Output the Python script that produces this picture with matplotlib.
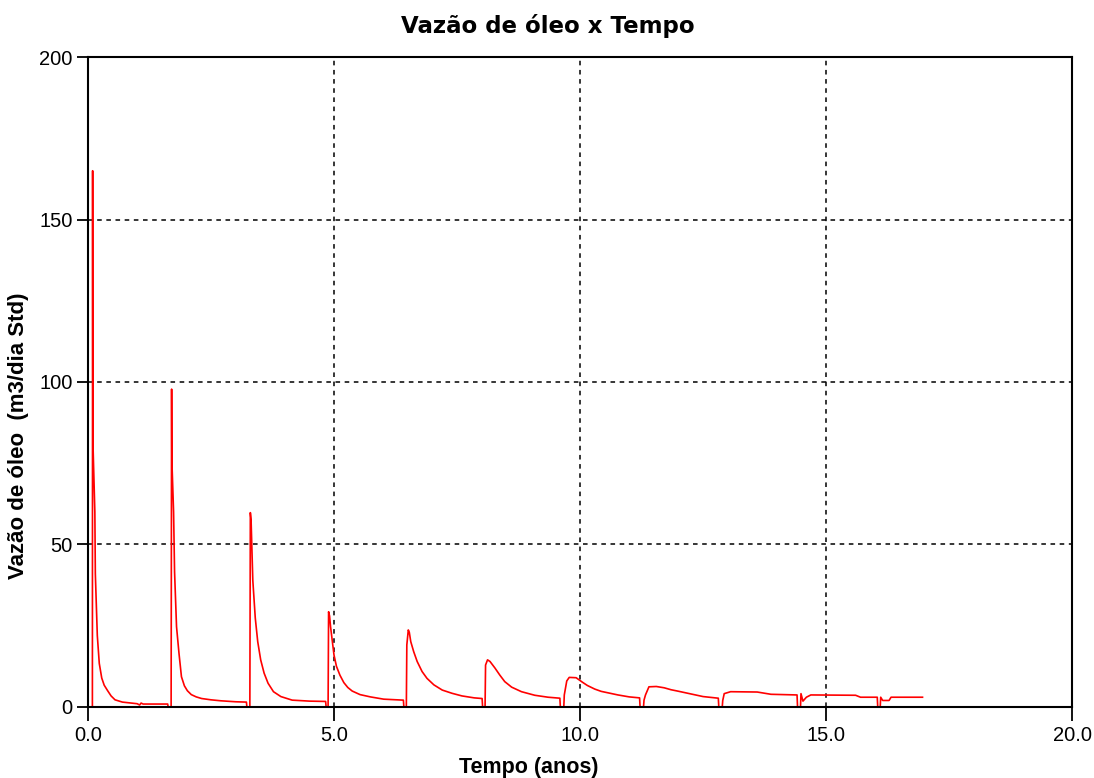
import matplotlib
matplotlib.use("Agg")
import matplotlib.pyplot as plt

# Vazao de oleo (m3/dia Std), ciclo a ciclo
tempo = [0.00, 0.09, 0.095, 0.10, 0.14, 0.15, 0.19, 0.23, 0.28, 0.33, 0.40, 0.47, 0.55, 0.70, 1.00, 1.05, 1.08, 1.12, 1.62, 1.63,
         1.69, 1.70, 1.705, 1.74, 1.76, 1.80, 1.85, 1.90, 1.96, 2.02, 2.10, 2.20, 2.31, 2.50, 2.70, 3.00, 3.22, 3.23,
         3.29, 3.30, 3.315, 3.35, 3.40, 3.45, 3.51, 3.58, 3.66, 3.77, 3.92, 4.15, 4.50, 4.83, 4.84,
         4.88, 4.89, 4.91, 4.93, 5.00, 5.05, 5.12, 5.20, 5.28, 5.37, 5.53, 5.74, 6.01, 6.41, 6.42,
         6.47, 6.48, 6.51, 6.53, 6.56, 6.62, 6.69, 6.79, 6.89, 7.03, 7.20, 7.40, 7.60, 7.85, 8.01, 8.02,
         8.07, 8.08, 8.12, 8.17, 8.27, 8.37, 8.47, 8.61, 8.81, 9.08, 9.35, 9.59, 9.60,
         9.67, 9.68, 9.73, 9.78, 9.92, 10.05, 10.15, 10.30, 10.43, 10.77, 11.00, 11.21, 11.22,
         11.29, 11.30, 11.33, 11.40, 11.55, 11.71, 11.85, 11.98, 12.25, 12.50, 12.81, 12.82,
         12.89, 12.90, 12.93, 13.06, 13.60, 13.88, 14.41, 14.42,
         14.48, 14.49, 14.53, 14.60, 14.69, 15.60, 15.70, 16.04, 16.05,
         16.10, 16.11, 16.15, 16.28, 16.32, 16.96]
vazao = [0, 0, 165, 82, 60, 41, 22, 13.4, 8.9, 6.7, 5.0, 3.4, 2.2, 1.5, 1.0, 0.6, 1.2, 0.9, 0.9, 0,
         0, 97.8, 76, 60, 41.6, 24.7, 16.5, 9.3, 6.5, 5.0, 3.8, 3.1, 2.6, 2.2, 1.9, 1.6, 1.5, 0,
         0, 59.8, 57.5, 39, 27.4, 20.1, 14.5, 10.4, 7.3, 4.7, 3.2, 2.1, 1.8, 1.7, 0,
         0, 29.3, 28, 24.7, 16, 12.5, 9.8, 7.5, 6.0, 4.9, 3.8, 3.1, 2.4, 2.1, 0,
         0, 19.1, 23.7, 23.0, 20.1, 17.0, 14.0, 10.9, 8.8, 6.8, 5.2, 4.2, 3.4, 2.8, 2.6, 0,
         0, 12.9, 14.5, 14.0, 12.0, 9.8, 7.8, 6.1, 4.7, 3.6, 3.0, 2.7, 0,
         0, 3.7, 8.0, 9.1, 9.0, 7.6, 6.6, 5.5, 4.8, 3.7, 3.1, 2.8, 0,
         0, 2.1, 3.7, 6.2, 6.3, 5.9, 5.3, 4.9, 4.0, 3.2, 2.7, 0,
         0, 2.0, 4.1, 4.7, 4.6, 3.9, 3.7, 0,
         0, 4.1, 1.8, 3.0, 3.7, 3.6, 3.0, 3.0, 0,
         0, 3.0, 2.0, 2.0, 3.0, 3.0]

xticks = [0, 5, 10, 15, 20]
xlabels = ["0.0", "5.0", "10.0", "15.0", "20.0"]
yticks = [0, 50, 100, 150, 200]

plt.rcParams["font.family"] = ["Liberation Sans", "DejaVu Sans"]

fig = plt.figure(figsize=(10.94, 7.78), dpi=100)
ax = fig.add_axes([0.0804, 0.0913, 0.8996, 0.8354])

ax.plot(tempo, vazao, color="red", lw=1.2)

ax.set_xlim(0, 20)
ax.set_ylim(0, 200)
ax.set_xticks(xticks)
ax.set_xticklabels(xlabels)
ax.set_yticks(yticks)
ax.tick_params(axis="x", direction="out", length=10, width=1.3, labelsize=14.5, pad=4)
ax.tick_params(axis="y", direction="out", length=8, width=1.3, labelsize=14.5, pad=3)
for s in ax.spines.values():
    s.set_linewidth(1.5)

for x in xticks[1:-1]:
    ax.axvline(x, color="black", lw=1.1, ls=(0, (3, 3)), zorder=0)
for y in yticks[1:-1]:
    ax.axhline(y, color="black", lw=1.1, ls=(0, (3, 3)), zorder=0)

fig.text(0.501, 0.967, "Vazão de óleo x Tempo", ha="center", va="center",
         fontsize=16.5, fontweight="bold", family="DejaVu Sans")
fig.text(0.483, 0.013, "Tempo (anos)", ha="center", va="center",
         fontsize=15.5, fontweight="bold")
fig.text(0.017, 0.44, "Vazão de óleo  (m3/dia Std)", ha="center", va="center",
         rotation=90, fontsize=16, fontweight="bold")

fig.savefig("out.png", dpi=100)
